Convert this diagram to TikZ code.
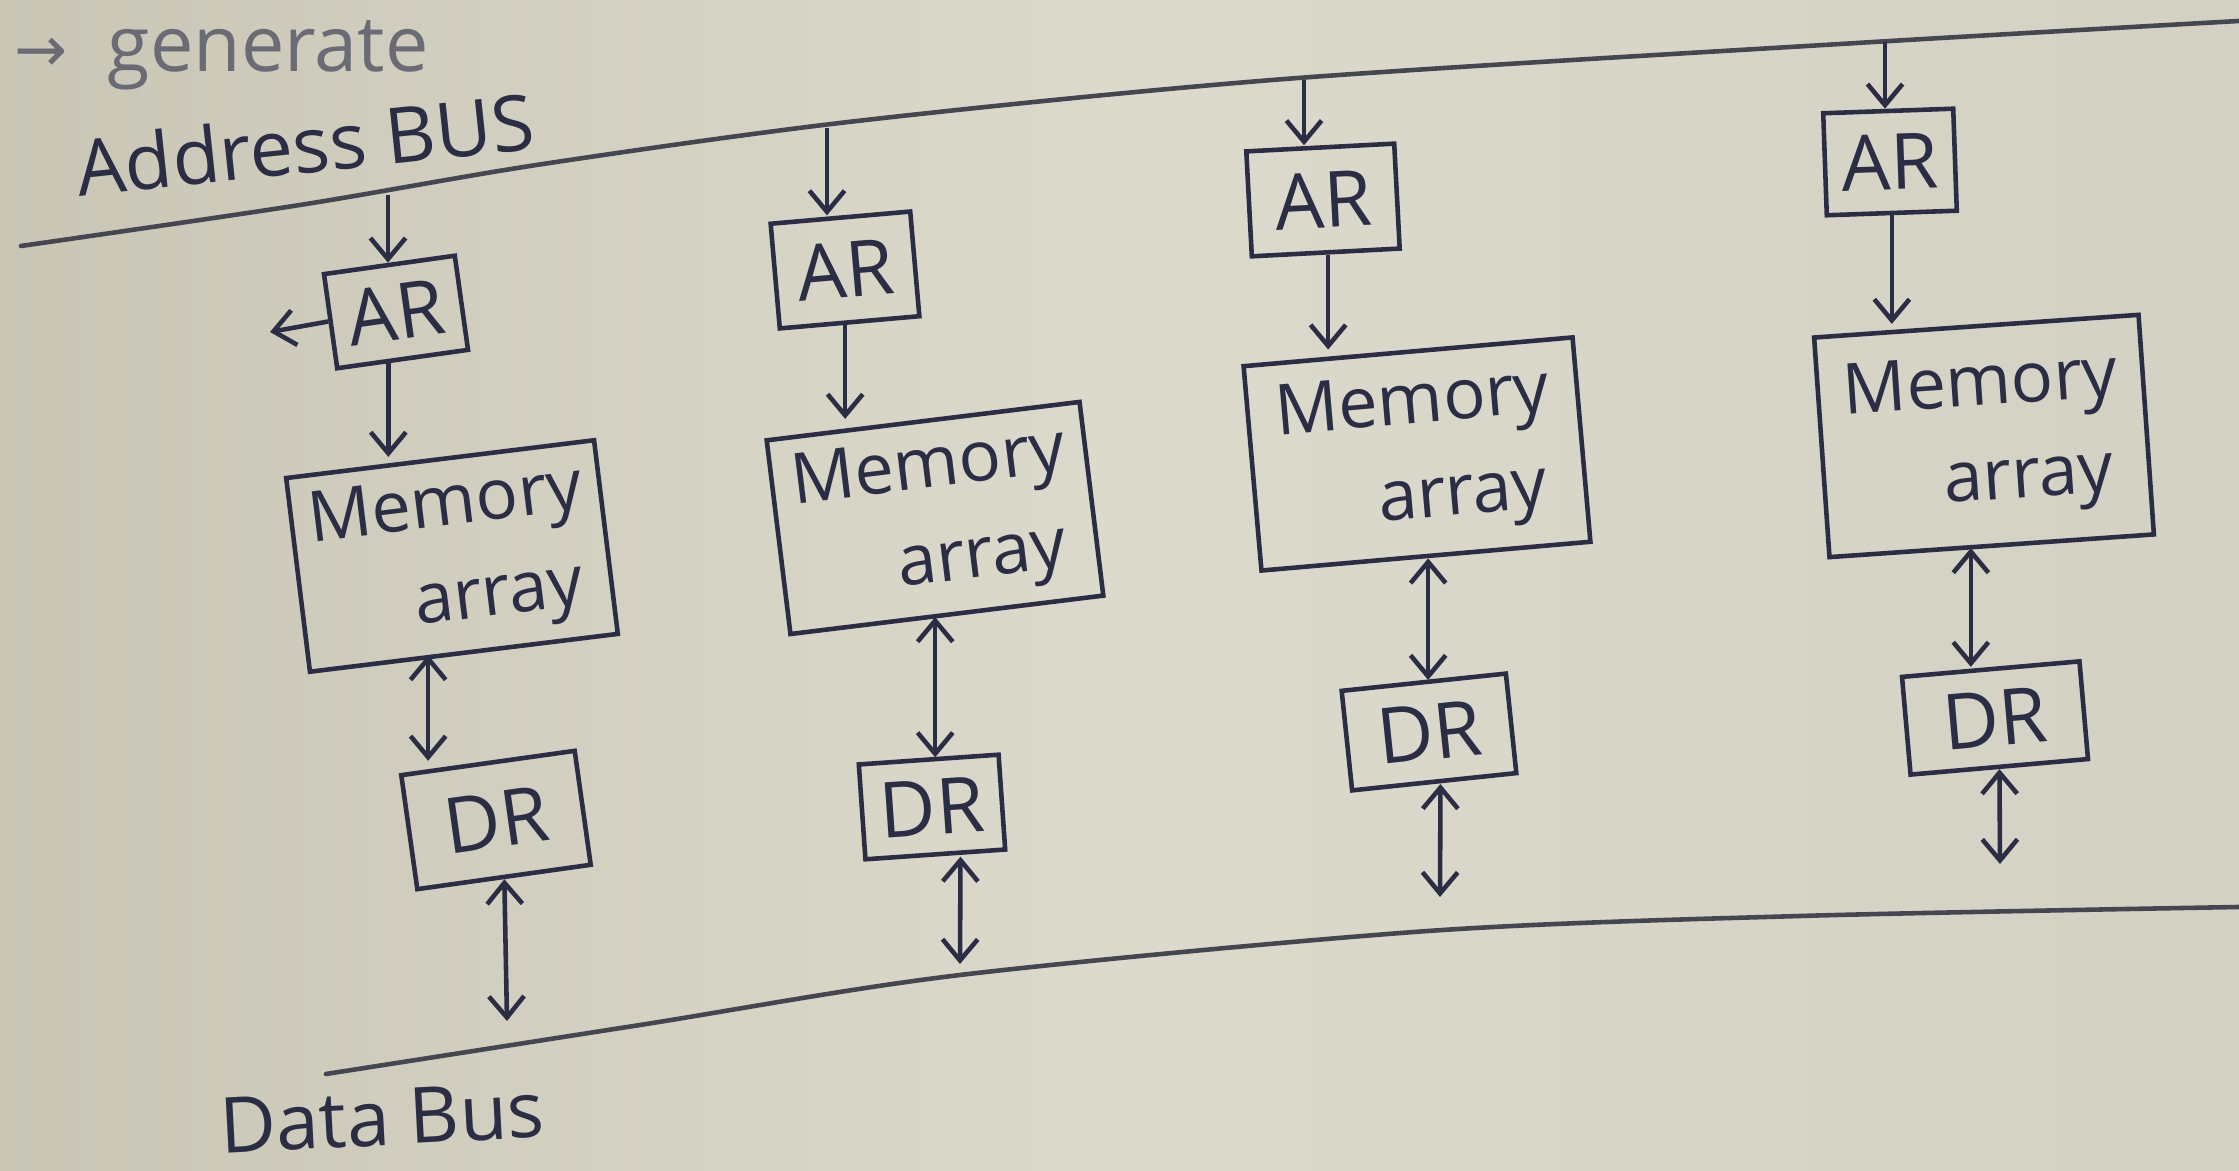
\documentclass[tikz,border=0pt]{standalone}
\usepackage{fontspec}
\setmainfont{Open Sans}
\usetikzlibrary{arrows.meta,calc}
\definecolor{paperL}{HTML}{C9C6B6}
\definecolor{paperM}{HTML}{DCDACC}
\definecolor{paperR}{HTML}{D3D1C3}
\definecolor{ink}{HTML}{2B2D45}
\definecolor{busink}{HTML}{45464F}
\definecolor{faded}{HTML}{6B6B76}
\begin{document}
\begin{tikzpicture}[x=0.01cm,y=-0.01cm,
  box/.style={draw=ink,line width=1.3pt,inner sep=0pt,text=ink,font=\fontsize{22}{26}\selectfont},
  membox/.style={box,align=center,font=\fontsize{20}{27}\selectfont},
  arr/.style={draw=ink,line width=1.3pt,-{Straight Barb[length=6pt,width=10pt]}},
  darr/.style={draw=ink,line width=1.3pt,{Straight Barb[length=6pt,width=10pt]}-{Straight Barb[length=6pt,width=10pt]}},
  busline/.style={draw=busink,line width=1.3pt,line cap=round},
  lbl/.style={text=ink,font=\fontsize{22}{26}\selectfont}]
% paper
\shade[left color=paperL,right color=paperR,middle color=paperM] (0,0) rectangle (2239,1171);
\useasboundingbox (0,0) rectangle (2239,1171);

% top note
\node[anchor=base west,text=faded,font=\fontsize{22}{22}\selectfont,inner sep=0pt] (note) at (14,72) {\fontspec{DejaVu Sans}\fontsize{18}{18}\selectfont →\ \ \fontspec{Open Sans}\fontsize{22}{22}\selectfont generate};

% labels
\node[lbl,rotate=6] (abus) at (305,144) {Address BUS};
\node[lbl,rotate=3] (dbus) at (382,1118) {Data Bus};

% buses
\draw[busline] plot[smooth] coordinates {(21,246) (300,205) (543,164) (857,121) (1285,79) (1857,43) (2239,21)};
\draw[busline] plot[smooth] coordinates {(326,1074) (640,1025) (960,975) (1428,931) (1800,916) (2239,907)};

% address-bus taps and data-bus ends
\coordinate (ab1) at (388,195);
\coordinate (ab2) at (827,128);
\coordinate (ab3) at (1304,80);
\coordinate (ab4) at (1885,42);
\coordinate (db1) at (507,1021);
\coordinate (db2) at (960,964);
\coordinate (db3) at (1440,897);
\coordinate (db4) at (2000,864);
\coordinate (la) at (270,332);

% column 1
\node[box,minimum width=1.32cm,minimum height=0.95cm,rotate=8] (AR1) at (396,312) {AR};
\node[membox,minimum width=3.1cm,minimum height=1.95cm,rotate=7] (M1) at (452,556) {Memory\\\hspace*{1.2em}array};
\node[box,minimum width=1.75cm,minimum height=1.15cm,rotate=8] (DR1) at (496,820) {DR};

% column 2
\node[box,minimum width=1.40cm,minimum height=1.05cm,rotate=5] (AR2) at (845,270) {AR};
\node[membox,minimum width=3.15cm,minimum height=1.95cm,rotate=7] (M2) at (935,518) {Memory\\\hspace*{1.2em}array};
\node[box,minimum width=1.40cm,minimum height=0.95cm,rotate=4] (DR2) at (932,807) {DR};

% column 3
\node[box,minimum width=1.48cm,minimum height=1.05cm,rotate=3] (AR3) at (1323,200) {AR};
\node[membox,minimum width=3.3cm,minimum height=2.05cm,rotate=5] (M3) at (1417,454) {Memory\\\hspace*{1.2em}array};
\node[box,minimum width=1.65cm,minimum height=1.0cm,rotate=6] (DR3) at (1429,732) {DR};

% column 4
\node[box,minimum width=1.30cm,minimum height=1.02cm,rotate=2] (AR4) at (1890,162) {AR};
\node[membox,minimum width=3.25cm,minimum height=2.2cm,rotate=4] (M4) at (1984,436) {Memory\\\hspace*{1.2em}array};
\node[box,minimum width=1.78cm,minimum height=0.98cm,rotate=5] (DR4) at (1995,718) {DR};

% connectors column 1
\draw[arr] (ab1) -- (ab1 |- AR1.north);
\draw[arr] (AR1.west) -- (la);
\draw[arr] ([xshift=-0.146cm]AR1.south) -- ([xshift=-0.146cm]AR1.south |- M1.north);
\draw[darr] ([xshift=-0.36cm]M1.south) -- ([xshift=-0.36cm]M1.south |- DR1.north);
\draw[darr] (DR1.south) -- (db1);

% connectors column 2
\draw[arr] (ab2) -- (ab2 |- AR2.north);
\draw[arr] ([xshift=-0.046cm]AR2.south) -- ([xshift=-0.046cm]AR2.south |- M2.north);
\draw[darr] ([xshift=-0.12cm]M2.south) -- ([xshift=-0.12cm]M2.south |- DR2.north);
\draw[darr] ([xshift=0.25cm]DR2.south) -- (db2);

% connectors column 3
\draw[arr] (ab3) -- (ab3 |- AR3.north);
\draw[arr] ([xshift=0.023cm]AR3.south) -- ([xshift=0.023cm]AR3.south |- M3.north);
\draw[darr] ([xshift=0.02cm]M3.south) -- ([xshift=0.02cm]M3.south |- DR3.north);
\draw[darr] ([xshift=0.06cm]DR3.south) -- (db3);

% connectors column 4
\draw[arr] (ab4) -- (ab4 |- AR4.north);
\draw[arr] (AR4.south) -- (AR4.south |- M4.north);
\draw[darr] ([xshift=-0.21cm]M4.south) -- ([xshift=-0.21cm]M4.south |- DR4.north);
\draw[darr] (DR4.south) -- (db4);
\end{tikzpicture}
\end{document}
